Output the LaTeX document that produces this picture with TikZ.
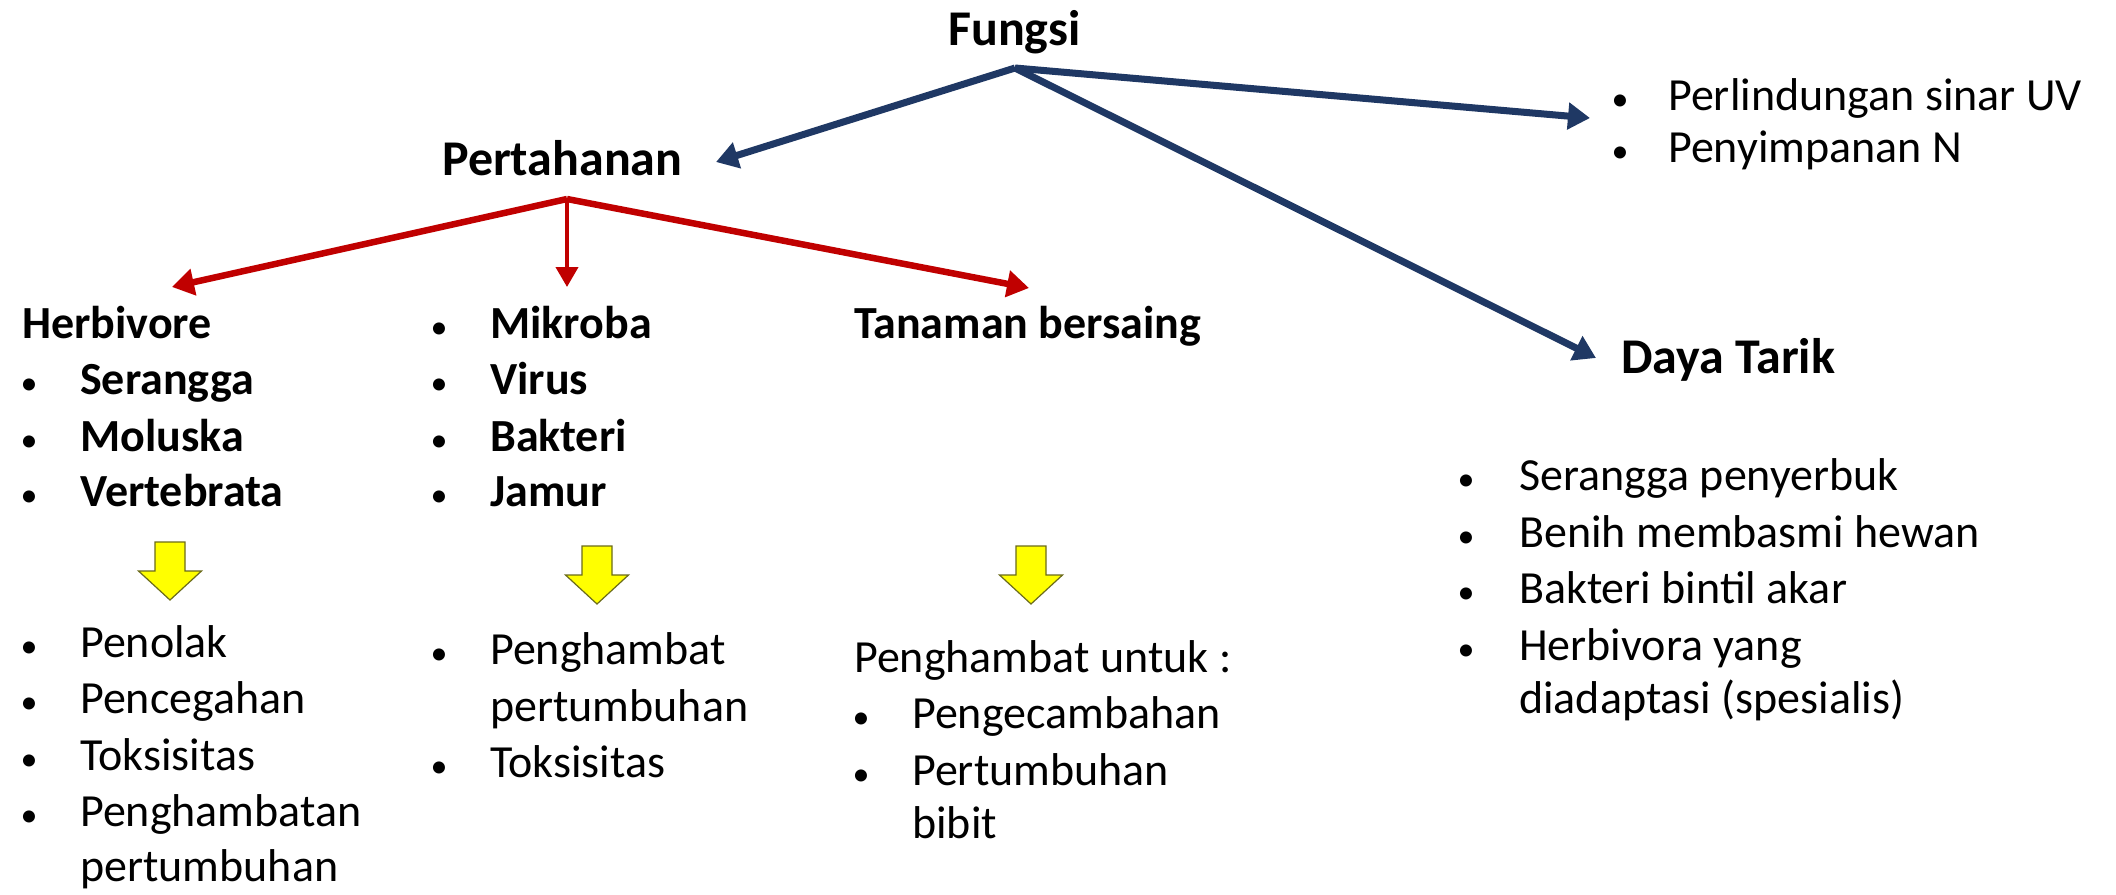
\documentclass[tikz,border=0pt]{standalone}
\usepackage{fontspec}
\setmainfont{Carlito}
\usetikzlibrary{arrows.meta}
\definecolor{navy}{HTML}{1F3864}
\definecolor{darkred}{HTML}{C00000}
\definecolor{yel}{HTML}{FFFF00}
\definecolor{yeledge}{HTML}{6B6B1A}
\newcommand{\bodyfont}{\fontsize{46}{56}\selectfont}
\newcommand{\headfont}{\fontsize{50}{60}\selectfont\bfseries}
\newcommand{\bul}[1][63pt]{\makebox[#1][l]{\hspace{3.5pt}{\fontsize{34}{34}\selectfont\mdseries •}}}
\tikzset{
  txt/.style={anchor=base west, inner sep=0pt, font=\bodyfont},
  btxt/.style={anchor=base west, inner sep=0pt, font=\bodyfont\bfseries},
  head/.style={anchor=base west, inner sep=0pt, font=\headfont},
  bluearrow/.style={draw=navy, line width=7pt, -{Triangle[length=22pt,width=26pt]}},
  redarrow/.style={draw=darkred, line width=6.5pt, -{Triangle[length=22pt,width=26pt]}},
  redthin/.style={draw=darkred, line width=4pt, -{Triangle[length=20pt,width=22pt]}},
  yarrow/.style={fill=yel, draw=yeledge, line width=1.2pt, line join=miter}
}
\begin{document}
\begin{tikzpicture}[x=1pt,y=-1pt]
\useasboundingbox (0,0) rectangle (2116,894);
\fill[white] (0,0) rectangle (2116,894);

% headings
\node[head] (fungsi) at (948,45) {Fungsi};
\node[head] (pert) at (442,175) {Pertahanan};
\node[head] (daya) at (1621,373) {Daya Tarik};

% connector coordinates
\coordinate (fa) at (1015,68);
\coordinate (tpert) at (716,162);
\coordinate (tuv) at (1590,118);
\coordinate (tdaya) at (1596,358);
\coordinate (ra) at (567,199);
\coordinate (therb) at (172,287);
\coordinate (tmik) at (567,287);
\coordinate (ttan) at (1029,288);

\draw[bluearrow] (fa) -- (tpert);
\draw[bluearrow] (fa) -- (tuv);
\draw[bluearrow] (fa) -- (tdaya);
\draw[redarrow] (ra) -- (therb);
\draw[redthin] (ra) -- (tmik);
\draw[redarrow] (ra) -- (ttan);

% top right list
\node[txt] (uv) at (1608,110) {\bul[60pt]Perlindungan sinar UV};
\node[txt] (nn) at (1608,162) {\bul[60pt]Penyimpanan N};

% column 1
\node[btxt] (herb) at (22,338) {Herbivore};
\node[btxt] (h1) at (17,394) {\bul Serangga};
\node[btxt] (h2) at (17,451) {\bul Moluska};
\node[btxt] (h3) at (17,506) {\bul Vertebrata};

% column 2
\node[btxt] (m1) at (427,338) {\bul Mikroba};
\node[btxt] (m2) at (427,394) {\bul Virus};
\node[btxt] (m3) at (427,451) {\bul Bakteri};
\node[btxt] (m4) at (427,506) {\bul Jamur};

% column 3
\node[btxt] (tan) at (854,338) {Tanaman bersaing};

% yellow arrows
\foreach \n/\cx/\ty in {ya/170/542, yb/597/546, yc/1031/546}{
  \draw[yarrow] (\cx-15,\ty) -- (\cx+15,\ty) -- (\cx+15,\ty+29) -- (\cx+31.5,\ty+29)
    -- (\cx,\ty+58) -- (\cx-31.5,\ty+29) -- (\cx-15,\ty+29) -- cycle;
}

% column 1 bottom
\node[txt] (p1) at (17,657) {\bul Penolak};
\node[txt] (p2) at (17,713) {\bul Pencegahan};
\node[txt] (p3) at (17,770) {\bul Toksisitas};
\node[txt] (p4) at (17,826) {\bul Penghambatan};
\node[txt] (p4b) at (80,881) {pertumbuhan};

% column 2 bottom
\node[txt] (q1) at (427,664) {\bul Penghambat};
\node[txt] (q1b) at (490,721) {pertumbuhan};
\node[txt] (q2) at (427,777) {\bul Toksisitas};

% column 3 bottom
\node[txt] (r0) at (854,672) {Penghambat untuk :};
\node[txt] (r1) at (849,728) {\bul Pengecambahan};
\node[txt] (r2) at (849,785) {\bul Pertumbuhan};
\node[txt] (r2b) at (912,838) {bibit};

% right column
\node[txt] (s1) at (1454,490) {\bul[65pt]Serangga penyerbuk};
\node[txt] (s2) at (1454,547) {\bul[65pt]Benih membasmi hewan};
\node[txt] (s3) at (1454,603) {\bul[65pt]Bakteri bintil akar};
\node[txt] (s4) at (1454,660) {\bul[65pt]Herbivora yang};
\node[txt] (s4b) at (1519,713) {diadaptasi (spesialis)};
\end{tikzpicture}
\end{document}
